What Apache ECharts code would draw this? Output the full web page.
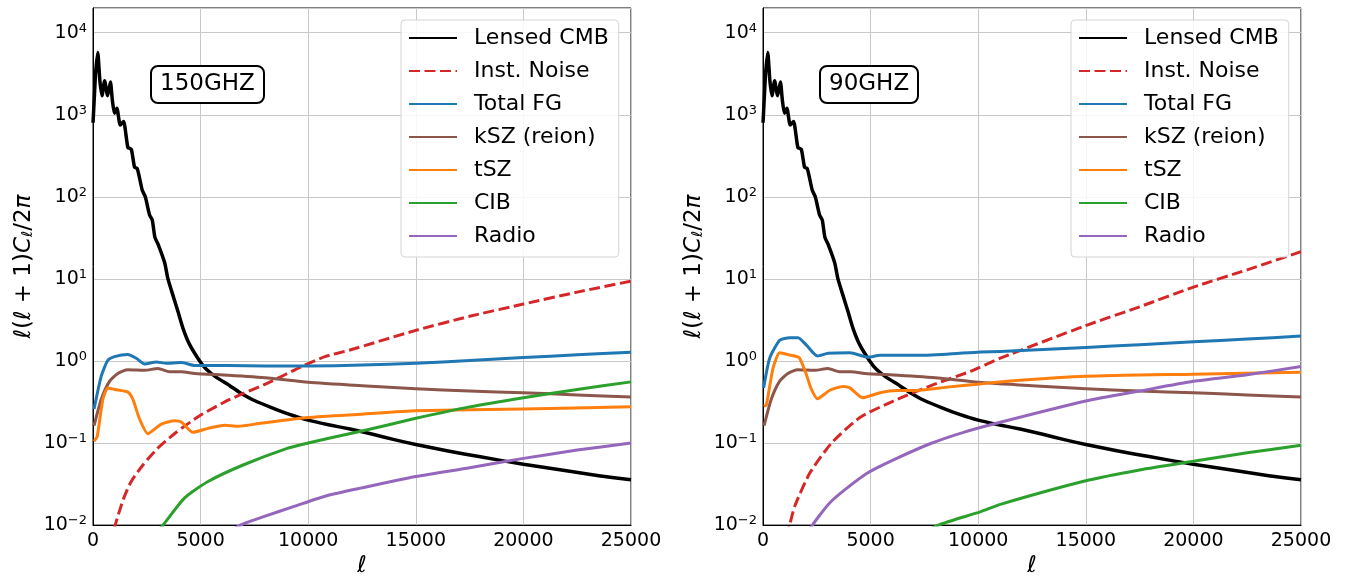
<!DOCTYPE html>
<html>
<head>
<meta charset="utf-8">
<script src="https://cdn.jsdelivr.net/npm/echarts@6/dist/echarts.min.js"></script>
<style>
html,body{margin:0;padding:0;background:#fff;}
#chart{width:1346px;height:583px;}
</style>
</head>
<body>
<div id="chart"></div>
<script>
// ---------------- DATA ----------------
const seriesNames = ['Lensed CMB', 'Inst. Noise', 'Total FG', 'kSZ (reion)', 'tSZ', 'CIB', 'Radio'];
const panelTitles = ['150GHZ', '90GHZ'];
const xTicks = [0, 5000, 10000, 15000, 20000, 25000];

// Lensed CMB (same in both panels)
const cmbEll = [2, 60, 120, 220, 320, 420, 540, 680, 810, 900, 1000, 1110, 1265, 1420, 1620, 1780, 1930, 2060, 2290, 2430, 2630, 2755, 2877, 3035, 3328, 3483, 3716, 3949, 4182, 4492, 4958, 5268, 5733, 6354, 6780, 7500, 8294, 9100, 10000, 11000, 12000, 13000, 14000, 15000, 16500, 18000, 20000, 22000, 23500, 25000];
const cmbVal = [800, 1600, 3200, 5750, 2600, 1710, 2600, 1710, 2500, 1500, 1040, 1200, 750, 830, 400, 380, 230, 220, 120, 100, 60, 52, 32, 26, 15.8, 10, 6.3, 4.0, 2.5, 1.58, 1.0, 0.79, 0.63, 0.5, 0.42, 0.33, 0.27, 0.225, 0.19, 0.166, 0.147, 0.128, 0.11, 0.096, 0.08, 0.068, 0.055, 0.046, 0.04, 0.0356];

// kSZ (same in both panels)
const kszEll = [50, 380, 768, 1156, 1620, 2400, 3018, 3560, 4104, 4725, 6276, 8138, 10000, 12500, 15000, 17500, 20000, 22500, 25000];
const kszVal = [0.163, 0.34, 0.565, 0.705, 0.78, 0.77, 0.81, 0.74, 0.74, 0.705, 0.67, 0.62, 0.55, 0.50, 0.46, 0.43, 0.41, 0.385, 0.364];

// 150 GHz
const noise150Ell = [500, 1033, 1435, 1776, 2320, 2987, 3871, 4958, 6354, 8138, 9690, 10776, 11940, 15000, 17500, 20000, 22500, 25000];
const noise150Val = [0.0025, 0.01, 0.0215, 0.034, 0.054, 0.0855, 0.1355, 0.215, 0.34, 0.54, 0.855, 1.13, 1.36, 2.36, 3.5, 4.94, 6.9, 9.4];
const fg150Ell = [50, 380, 690, 1000, 1620, 2010, 2400, 2940, 3406, 4104, 4725, 6276, 8000, 10000, 12500, 15000, 17500, 20000, 22500, 25000];
const fg150Val = [0.26, 0.65, 1.02, 1.13, 1.20, 1.08, 0.92, 0.97, 0.94, 0.955, 0.88, 0.88, 0.87, 0.87, 0.89, 0.94, 1.01, 1.10, 1.19, 1.28];
const tsz150Ell = [50, 194, 458, 690, 1000, 1620, 1854, 2164, 2552, 3174, 3795, 4104, 4647, 5345, 6121, 6742, 7828, 10000, 12500, 15000, 20000, 25000];
const tsz150Val = [0.105, 0.12, 0.34, 0.47, 0.45, 0.417, 0.34, 0.196, 0.13, 0.17, 0.187, 0.18, 0.135, 0.151, 0.165, 0.16, 0.175, 0.205, 0.225, 0.247, 0.26, 0.276];
const cib150Ell = [2500, 3250, 4259, 5345, 6975, 8992, 10000, 11009, 12500, 15000, 17500, 20000, 22500, 25000];
const cib150Val = [0.006, 0.01, 0.0215, 0.034, 0.054, 0.0855, 0.1, 0.115, 0.14, 0.20, 0.276, 0.357, 0.45, 0.556];
const radio150Ell = [5500, 6850, 7828, 9380, 10776, 12500, 15000, 17500, 20000, 22500, 25000];
const radio150Val = [0.006, 0.01, 0.0124, 0.017, 0.0225, 0.0284, 0.039, 0.05, 0.065, 0.082, 0.10];

// 90 GHz
const noise90Ell = [600, 1242, 1475, 2174, 3184, 4504, 6057, 7920, 9629, 11027, 15000, 17500, 20000, 22500, 25000];
const noise90Val = [0.002, 0.01, 0.017, 0.043, 0.1, 0.205, 0.325, 0.515, 0.745, 1.08, 2.70, 4.57, 7.94, 12.9, 21.5];
const fg90Ell = [30, 310, 777, 1242, 1630, 2019, 2531, 3028, 4038, 4892, 5436, 6989, 8542, 10095, 11027, 15000, 17500, 20000, 22500, 25000];
const fg90Val = [0.47, 1.08, 1.79, 1.92, 1.92, 1.56, 1.15, 1.24, 1.26, 1.11, 1.17, 1.17, 1.21, 1.29, 1.30, 1.46, 1.58, 1.71, 1.85, 2.01];
const tsz90Ell = [30, 155, 466, 777, 1242, 1677, 2019, 2221, 2531, 3106, 3727, 4038, 4628, 5436, 6212, 6989, 8542, 10095, 11490, 15000, 20000, 25000];
const tsz90Val = [0.283, 0.29, 0.817, 1.26, 1.18, 1.10, 0.68, 0.47, 0.347, 0.44, 0.49, 0.47, 0.356, 0.41, 0.436, 0.436, 0.48, 0.525, 0.57, 0.65, 0.69, 0.73];
const cib90Ell = [6500, 8153, 10095, 11027, 15000, 17500, 20000, 22500, 25000];
const cib90Val = [0.006, 0.01, 0.0145, 0.0179, 0.0347, 0.047, 0.060, 0.076, 0.094];
const radio90Ell = [1700, 2298, 3106, 3883, 4892, 6212, 7765, 9318, 11027, 15000, 17500, 20000, 22500, 25000];
const radio90Val = [0.005, 0.01, 0.0187, 0.028, 0.0437, 0.065, 0.098, 0.135, 0.179, 0.325, 0.43, 0.565, 0.68, 0.855];

// ---------------- CHART ----------------
const FONT = 'DejaVu Sans';
const colors = ['#000000', '#d62728', '#1f77b4', '#8c564b', '#ff7f0e', '#2ca02c', '#9467bd'];
const widths = [3.5, 3, 3, 3, 3, 3, 3];

const panels = [
  [[cmbEll, cmbVal], [noise150Ell, noise150Val], [fg150Ell, fg150Val], [kszEll, kszVal], [tsz150Ell, tsz150Val], [cib150Ell, cib150Val], [radio150Ell, radio150Val]],
  [[cmbEll, cmbVal], [noise90Ell, noise90Val], [fg90Ell, fg90Val], [kszEll, kszVal], [tsz90Ell, tsz90Val], [cib90Ell, cib90Val], [radio90Ell, radio90Val]]
];

function pairs(e, v) { return e.map((x, i) => [x, v[i]]); }

const grids = [
  { left: 93, width: 538, top: 8, height: 525 },
  { left: 763, width: 538, top: 8, height: 525 }
];

const series = [];
panels.forEach((p, gi) => {
  p.forEach((d, si) => {
    series.push({
      name: seriesNames[si],
      type: 'line',
      xAxisIndex: gi,
      yAxisIndex: gi,
      data: pairs(d[0], d[1]),
      showSymbol: false,
      symbol: 'none',
      smooth: 0.2,
      clip: true,
      lineStyle: { color: colors[si], width: widths[si], type: si === 1 ? [11, 4.5] : 'solid', cap: 'butt', join: 'round' },
      itemStyle: { color: colors[si] },
      z: 2 + si
    });
  });
});

function supLabel(v) {
  const lg = Math.log10(v);
  const k = Math.round(lg);
  if (Math.abs(lg - k) > 1e-6) return '';
  return '{b|10}{s|' + (k < 0 ? '\u2212' + (-k) : k) + '}';
}

const xAxes = grids.map((g, i) => ({
  type: 'value', gridIndex: i, min: xTicks[0], max: xTicks[xTicks.length - 1], interval: 5000,
  name: '{i|ℓ}', nameLocation: 'middle', nameGap: 28,
  nameTextStyle: { rich: { i: { fontSize: 23, fontStyle: 'italic', fontFamily: FONT, color: '#000' } } },
  axisLine: { show: true, lineStyle: { color: '#000', width: 1 } },
  axisTick: { show: false },
  axisLabel: { fontSize: 19, fontFamily: FONT, color: '#000', margin: 6, formatter: v => String(v) },
  splitLine: { show: true, lineStyle: { color: '#c8c8c8', width: 1 } }
}));

const yAxes = grids.map((g, i) => ({
  type: 'log', gridIndex: i, min: 0.01, max: 20000, logBase: 10,
  name: '{i|ℓ}{n|(}{i|ℓ}{n| + 1)}{i|C}{s|ℓ}{n|/2}{i|π}', nameLocation: 'middle', nameRotate: 90, nameGap: 57,
  nameTextStyle: { rich: {
    i: { fontSize: 23, fontStyle: 'italic', fontFamily: FONT, color: '#000' },
    n: { fontSize: 23, fontFamily: FONT, color: '#000' },
    s: { fontSize: 15, fontStyle: 'italic', fontFamily: FONT, color: '#000', verticalAlign: 'bottom', padding: [6, 0, 0, 0] }
  } },
  axisLine: { show: true, lineStyle: { color: '#000', width: 1 } },
  axisTick: { show: false },
  axisLabel: {
    margin: 6, formatter: supLabel,
    rich: {
      b: { fontSize: 19, fontFamily: FONT, color: '#000' },
      s: { fontSize: 13, fontFamily: FONT, color: '#000', verticalAlign: 'top', padding: [0, 0, 8, 0] }
    }
  },
  splitLine: { show: true, lineStyle: { color: '#c8c8c8', width: 1 } }
}));

const legends = [401, 1071].map(lx => ({
  orient: 'vertical', left: lx, top: 20,
  data: seriesNames,
  itemWidth: 48, itemHeight: 14, itemGap: 11,
  padding: [7, 10, 10, 7],
  backgroundColor: 'rgba(255,255,255,0.85)',
  borderColor: '#d4d4d4', borderWidth: 1, borderRadius: 4,
  itemStyle: { opacity: 0 },
  textStyle: { fontSize: 22, fontFamily: FONT, color: '#000', padding: [0, 0, 0, 12] },
  selectedMode: false
}));

const titles = [
  { text: panelTitles[0], left: 151, top: 66 },
  { text: panelTitles[1], left: 820, top: 66 }
].map(t => Object.assign(t, {
  padding: [7, 9], borderColor: '#000', borderWidth: 2, borderRadius: 7, backgroundColor: '#fff',
  textStyle: { fontSize: 23, fontWeight: 'normal', fontFamily: FONT, color: '#000' }
}));

const chart = echarts.init(document.getElementById('chart'), null, { renderer: 'canvas' });
chart.setOption({
  animation: false,
  backgroundColor: '#fff',
  title: titles,
  legend: legends,
  grid: grids.map(g => Object.assign({ show: true, borderColor: '#000', borderWidth: 1, backgroundColor: 'transparent' }, g)),
  xAxis: xAxes,
  yAxis: yAxes,
  series: series
});
</script>
</body>
</html>
